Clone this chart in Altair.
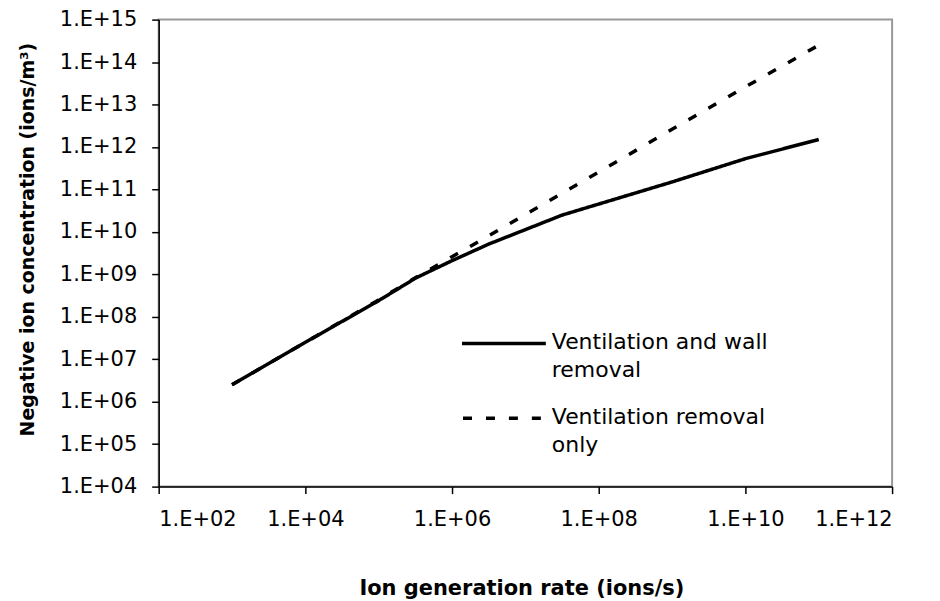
import altair as alt
import pandas as pd

# Ion generation rate (ions/s)
gen_rate = [1e3, 1e4, 1e5, 3.2e5, 1e6, 3.2e6, 3.2e7, 1e9, 1e10, 1e11]
# Negative ion concentration (ions/m3)
wall_and_vent = [2.5e6, 2.5e7, 2.4e8, 8.2e8, 2.1e9, 5.2e9, 2.5e10, 1.5e11, 5.3e11, 1.5e12]
vent_only = [2.5e6, 2.5e7, 2.5e8, 8.4e8, 2.6e9, 8.2e9, 8.2e10, 2.6e12, 2.6e13, 2.5e14]

series_names = ["Ventilation and wall removal", "Ventilation removal only"]
legend_lines = [["Ventilation and wall", "removal"], ["Ventilation removal", "only"]]

x_ticks = [1e2, 1e4, 1e6, 1e8, 1e10, 1e12]
y_ticks = [10.0 ** k for k in range(4, 16)]

rows = []
for s, vals in zip(series_names, [wall_and_vent, vent_only]):
    for g, c in zip(gen_rate, vals):
        rows.append({"rate": g, "conc": c, "series": s})
df = pd.DataFrame(rows)

label_expr = ("'1.E+' + (round(log(datum.value)/LN10) < 10 ? '0' : '') + "
              "round(log(datum.value)/LN10)")

FONT = "DejaVu Sans"

lines = alt.Chart(df).mark_line(color="black", strokeWidth=3.5, strokeCap="butt").encode(
    x=alt.X("rate:Q",
            scale=alt.Scale(type="log", domain=[1e2, 1e12]),
            axis=alt.Axis(values=x_ticks, labelExpr=label_expr,
                          title="Ion generation rate (ions/s)",
                          labelPadding=15, labelFontSize=21,
                          titleX=363.5, titleY=108, titleBaseline="alphabetic",
                          titleAlign="center", titleFontSize=21)),
    y=alt.Y("conc:Q",
            scale=alt.Scale(type="log", domain=[1e4, 1e15]),
            axis=alt.Axis(values=y_ticks, labelExpr=label_expr,
                          title="Negative ion concentration (ions/m³)",
                          labelPadding=15, labelFontSize=21,
                          titleX=-125.7, titleY=220, titleAngle=270,
                          titleBaseline="alphabetic", titleAlign="center",
                          titleFontSize=19)),
    strokeDash=alt.StrokeDash("series:N",
                              scale=alt.Scale(domain=series_names, range=[[1, 0], [9, 14]]),
                              legend=None),
    order="rate:Q",
)

one = pd.DataFrame({"k": [0]})

leg_solid = alt.Chart(one).mark_rule(color="black", strokeWidth=3.5).encode(
    x=alt.value(304), x2=alt.value(388), y=alt.value(324.5))
leg_dash = alt.Chart(one).mark_rule(color="black", strokeWidth=3.5, strokeDash=[9, 14]).encode(
    x=alt.value(305), x2=alt.value(388), y=alt.value(399.5))

def txt(s, y):
    return alt.Chart(one).mark_text(align="left", baseline="middle", font=FONT,
                                    fontSize=22, color="black").encode(
        x=alt.value(394), y=alt.value(y), text=alt.value(s))

legend_layers = [
    txt(legend_lines[0][0], 323), txt(legend_lines[0][1], 351),
    txt(legend_lines[1][0], 398), txt(legend_lines[1][1], 426),
]

chart = alt.layer(lines, leg_solid, leg_dash, *legend_layers).properties(
    width=735, height=468,
    padding={"left": 151, "top": 11, "right": 40, "bottom": 115},
    autosize="none",
).configure_view(
    stroke="#999999", strokeWidth=2
).configure_axis(
    grid=False, domainColor="black", domainWidth=1.5,
    tickColor="black", tickWidth=1.5, tickSize=7,
    labelFont=FONT, labelColor="black",
    titleFont=FONT, titleColor="black", titleFontWeight="bold",
)

chart.save("out.html", embed_options={"renderer": "svg", "actions": False})
